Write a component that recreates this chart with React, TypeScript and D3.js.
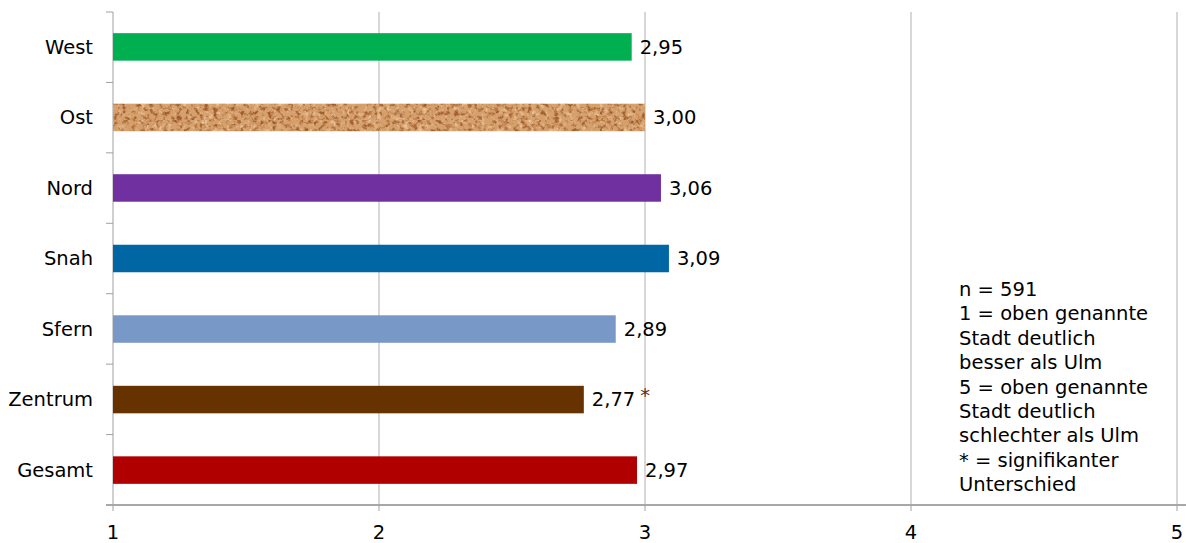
import React from "react";
import * as d3 from "d3";

const categories = ["West", "Ost", "Nord", "Snah", "Sfern", "Zentrum", "Gesamt"];
const values = [2.95, 3.0, 3.06, 3.09, 2.89, 2.77, 2.97];
const labels = ["2,95", "3,00", "3,06", "3,09", "2,89", "2,77", "2,97"];
const marks = ["", "", "", "", "", "*", ""];
const colors = ["#00B050", "url(#cork)", "#7030A0", "#0066A4", "#7899C8", "#663300", "#B00000"];
const xTicks = [1, 2, 3, 4, 5];
const noteLines = [
  "n = 591",
  "1 = oben genannte",
  "Stadt deutlich",
  "besser als Ulm",
  "5 = oben genannte",
  "Stadt deutlich",
  "schlechter als Ulm",
  "* = signifikanter",
  "Unterschied",
];

const W = 1186;
const H = 543;
const left = 113;
const right = 1177;
const top = 12;
const bottom = 505;
const font = "'DejaVu Sans', Verdana, sans-serif";
const fs = 19.5;

export default function App() {
  const x = d3.scaleLinear().domain([1, 5]).range([left, right]);
  const y = d3.scaleBand<string>().domain(categories).range([top, bottom]).paddingInner(0.61).paddingOuter(0.3);
  const boundaries = d3.range(categories.length + 1).map((i) => top + i * ((bottom - top) / categories.length));
  return (
    <svg width={W} height={H} style={{ position: "absolute", left: 0, top: 0, background: "#fff" }}>
      <defs>
        <filter id="corkNoise" filterUnits="userSpaceOnUse" x="0" y="0" width="600" height="40" colorInterpolationFilters="sRGB">
          <feTurbulence type="fractalNoise" baseFrequency="0.22" numOctaves="3" seed="7" result="noise" />
          <feColorMatrix in="noise" type="matrix" values="0 0 0 0 0.62  0 0 0 0 0.36  0 0 0 0 0.16  3.6 0 0 0 -1.75" result="dark" />
          <feColorMatrix in="noise" type="matrix" values="0 0 0 0 0.92  0 0 0 0 0.76  0 0 0 0 0.60  0 -3.6 0 0 1.75" result="light" />
          <feFlood floodColor="#D6A06C" result="base" />
          <feMerge>
            <feMergeNode in="base" />
            <feMergeNode in="light" />
            <feMergeNode in="dark" />
          </feMerge>
        </filter>
        <pattern id="cork" patternUnits="userSpaceOnUse" width="600" height="40">
          <rect width="600" height="40" fill="#D6A06C" filter="url(#corkNoise)" />
        </pattern>
      </defs>
      {xTicks.slice(1).map((t) => (
        <line key={t} x1={x(t)} x2={x(t)} y1={top} y2={bottom} stroke="#B0B0B0" strokeWidth={1} />
      ))}
      <line x1={left} x2={left} y1={top} y2={bottom} stroke="#A0A0A0" strokeWidth={1} />
      {boundaries.map((b, i) => (
        <line key={i} x1={left - 7} x2={left} y1={b} y2={b} stroke="#A0A0A0" strokeWidth={1} />
      ))}
      <line x1={left - 7} x2={W} y1={bottom} y2={bottom} stroke="#A8A8A8" strokeWidth={2} />
      {xTicks.map((t) => (
        <line key={t} x1={x(t)} x2={x(t)} y1={bottom} y2={bottom + 6} stroke="#A0A0A0" strokeWidth={1} />
      ))}
      {xTicks.map((t) => (
        <text key={t} x={x(t)} y={539} textAnchor="middle" fontFamily={font} fontSize={fs} fill="#000">
          {t}
        </text>
      ))}
      {categories.map((c, i) => (
        <g key={c}>
          <rect x={x(1)} y={y(c)!} width={x(values[i]) - x(1)} height={y.bandwidth()} fill={colors[i]} />
          <text x={left - 20} y={y(c)! + y.bandwidth() / 2} dy="0.35em" textAnchor="end" fontFamily={font} fontSize={fs} fill="#000">
            {c}
          </text>
          <text x={x(values[i]) + 8} y={y(c)! + y.bandwidth() / 2} dy="0.35em" fontFamily={font} fontSize={fs} fill="#000">
            {labels[i]}
            {marks[i] ? <tspan fill="#6A2A10" dx="5" dy="-0.2em">{marks[i]}</tspan> : null}
          </text>
        </g>
      ))}
      <text fontFamily={font} fontSize={fs} fill="#000">
        {noteLines.map((l, i) => (
          <tspan key={i} x={959} y={296 + i * 24.4}>
            {l}
          </tspan>
        ))}
      </text>
    </svg>
  );
}
